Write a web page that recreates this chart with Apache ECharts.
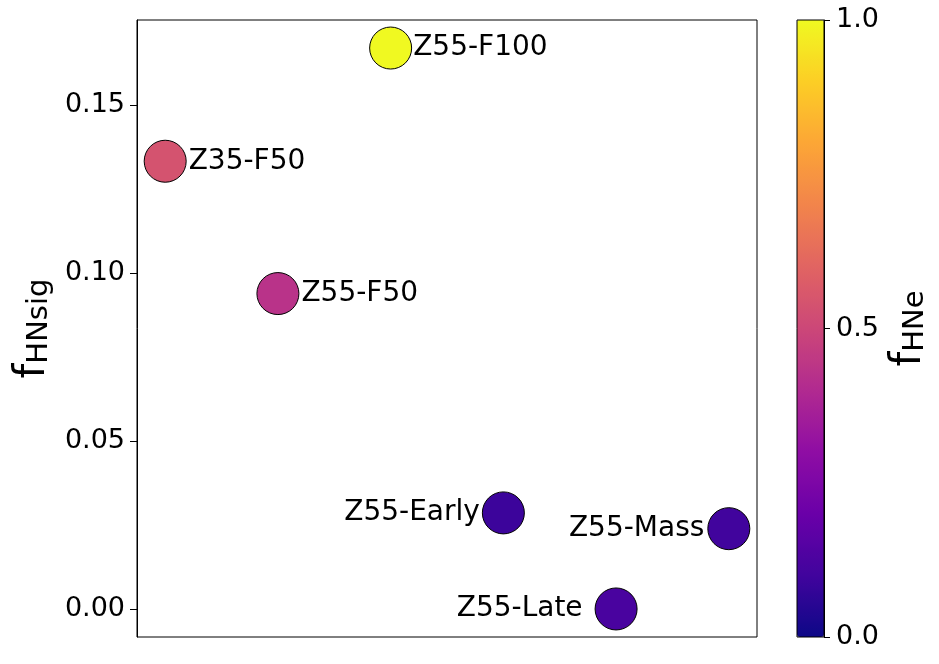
<!DOCTYPE html>
<html>
<head>
<meta charset="utf-8">
<script src="https://cdn.jsdelivr.net/npm/echarts@6/dist/echarts.min.js"></script>
<style>html,body{margin:0;padding:0;background:#fff}#c{width:939px;height:664px}</style>
</head>
<body>
<div id="c"></div>
<script>
// ---- data ----
const names = ['Z35-F50', 'Z55-F50', 'Z55-F100', 'Z55-Early', 'Z55-Late', 'Z55-Mass'];
const xIndex = [0, 1, 2, 3, 4, 5];
const fHNsig = [0.1333, 0.0939, 0.1670, 0.0286, 0.0000, 0.0239];
const fHNe = [0.54, 0.43, 1.00, 0.09, 0.12, 0.10];
const yTicks = [0, 0.05, 0.10, 0.15];
const cbarTicks = [0, 0.5, 1.0];

// ---- styles ----
const FONT = 'DejaVu Sans';
const plasma = ['#0d0887','#41049d','#6a00a8','#8f0da4','#b12a90','#cc4778','#e16462','#f2844b','#fca636','#fcce25','#f0f921'];
const labelPlace = {
  'Z35-F50': {position: 'right', distance: 2},
  'Z55-F50': {position: 'right', distance: 2},
  'Z55-F100': {position: 'right', distance: 1},
  'Z55-Early': {position: 'left', distance: 2},
  'Z55-Late': {position: 'left', distance: 12},
  'Z55-Mass': {position: 'left', distance: 3}
};

const ymin = -0.00835, ymax = 0.17535;

const data = names.map((n, i) => ({
  name: n,
  value: [xIndex[i], fHNsig[i], fHNe[i]],
  label: Object.assign({show: true, formatter: n}, labelPlace[n])
}));

const chart = echarts.init(document.getElementById('c'), null, {renderer: 'canvas'});
chart.setOption({
  animation: false,
  backgroundColor: '#fff',
  textStyle: {fontFamily: FONT},
  grid: [
    {left: 137, top: 20, width: 620, height: 617, show: true, borderColor: '#000', borderWidth: 1, backgroundColor: 'transparent', z: 10},
    {left: 797, top: 20, width: 27, height: 617, show: true, borderColor: '#000', borderWidth: 1, backgroundColor: 'transparent', z: 10}
  ],
  xAxis: [
    {gridIndex: 0, type: 'value', min: -0.25, max: 5.25, show: false, splitLine: {show: false}},
    {gridIndex: 1, type: 'value', min: 0, max: 1, show: false, splitLine: {show: false}}
  ],
  yAxis: [
    {
      gridIndex: 0, type: 'value', min: ymin, max: ymax,
      splitLine: {show: false},
      axisLine: {show: true, onZero: false, lineStyle: {color: '#000', width: 1}},
      axisTick: {show: true, length: 7, lineStyle: {color: '#000', width: 1}, customValues: yTicks},
      axisLabel: {color: '#000', fontSize: 27, fontFamily: FONT, margin: 12, customValues: yTicks,
        formatter: v => v.toFixed(2)},
      name: '{f|f}{s|HNsig}',
      nameLocation: 'middle',
      nameRotate: 90,
      nameGap: 80,
      nameTextStyle: {
        rich: {
          f: {fontSize: 42, fontFamily: FONT, color: '#000', verticalAlign: 'bottom', lineHeight: 50},
          s: {fontSize: 29, fontFamily: FONT, color: '#000', verticalAlign: 'bottom', lineHeight: 36}
        }
      }
    },
    {
      gridIndex: 1, type: 'value', min: 0, max: 1, position: 'right',
      splitLine: {show: false},
      axisLine: {show: true, onZero: false, lineStyle: {color: '#000', width: 1}},
      axisTick: {show: true, length: 6, lineStyle: {color: '#000', width: 1}, customValues: cbarTicks},
      axisLabel: {color: '#000', fontSize: 27, fontFamily: FONT, margin: 12, customValues: cbarTicks,
        formatter: v => v.toFixed(1)},
      name: '{f|f}{s|HNe}',
      nameLocation: 'middle',
      nameRotate: 90,
      nameGap: 56,
      nameTextStyle: {
        rich: {
          f: {fontSize: 42, fontFamily: FONT, color: '#000', verticalAlign: 'bottom', lineHeight: 50},
          s: {fontSize: 29, fontFamily: FONT, color: '#000', verticalAlign: 'bottom', lineHeight: 36}
        }
      }
    }
  ],
  visualMap: {
    type: 'continuous',
    seriesIndex: 0,
    dimension: 2,
    min: 0, max: 1,
    calculable: false,
    left: 797, top: 20,
    itemWidth: 27, itemHeight: 617,
    padding: 0,
    text: null,
    showLabel: false,
    hoverLink: false,
    inRange: {color: plasma}
  },
  series: [{
    type: 'scatter',
    xAxisIndex: 0, yAxisIndex: 0,
    symbolSize: 42,
    itemStyle: {borderColor: '#000', borderWidth: 1, opacity: 1},
    label: {color: '#000', fontSize: 28, fontFamily: FONT},
    data: data
  }]
});
</script>
</body>
</html>
